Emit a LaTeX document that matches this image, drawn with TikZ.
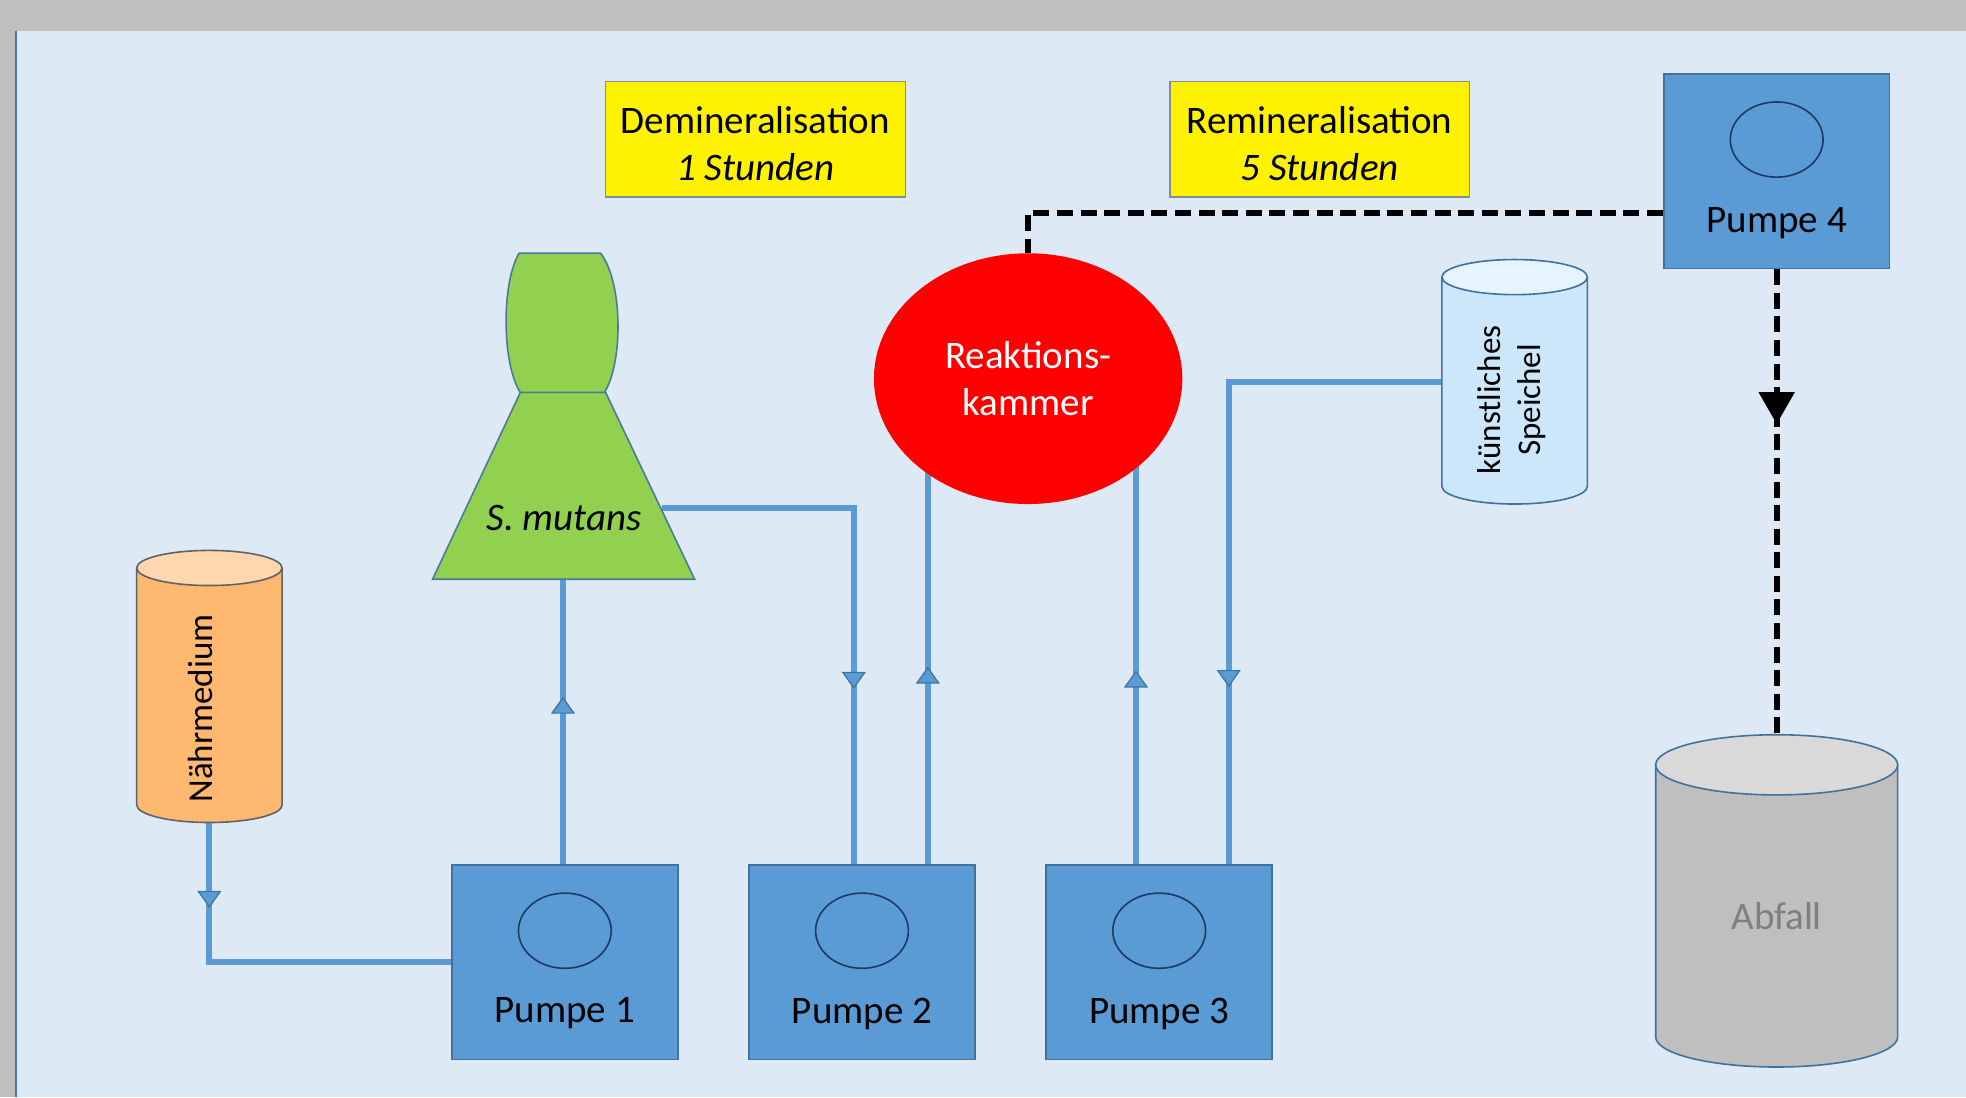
\documentclass[tikz,border=0pt]{standalone}
\usepackage{fontspec}
\setmainfont{Carlito}
\usetikzlibrary{arrows.meta,decorations.markings,calc,shapes.geometric}
\pgfdeclarelayer{back}
\pgfdeclarelayer{pipes}
\pgfsetlayers{back,pipes,main}
\definecolor{bgblue}{HTML}{DDEAF6}
\definecolor{framegray}{HTML}{BFBFBF}
\definecolor{edgeblue}{HTML}{4A74A8}
\definecolor{pumpblue}{HTML}{5B9BD5}
\definecolor{pumpborder}{HTML}{41719C}
\definecolor{eyenavy}{HTML}{1F3864}
\definecolor{pipeblue}{HTML}{5B9BD5}
\definecolor{flaskgreen}{HTML}{92D050}
\definecolor{flaskedge}{HTML}{4E7A9A}
\definecolor{orangebody}{HTML}{FFB870}
\definecolor{orangetop}{HTML}{FFD7AE}
\definecolor{orangeedge}{HTML}{5F6368}
\definecolor{salivabody}{HTML}{CCE7FA}
\definecolor{salivatop}{HTML}{E6F4FD}
\definecolor{wastebody}{HTML}{BFBFBF}
\definecolor{wastetop}{HTML}{D9D9D9}
\definecolor{wastetext}{HTML}{7F7F7F}
\definecolor{phaseedge}{HTML}{7F8C99}
\definecolor{reactred}{HTML}{FF0000}
\newcommand\mycyl[8]{%
  \path[draw=#8, line width=0.8pt, fill=#6] (#1-#4,#2) -- (#1-#4,#3)
    arc[start angle=180,end angle=0,x radius=#4,y radius=#5] -- (#1+#4,#2) -- cycle;
  \path[draw=#8, line width=0.8pt, fill=#7] (#1,#2) ellipse[x radius=#4, y radius=#5];
}
\begin{document}
\begin{tikzpicture}[x=0.627pt,y=-0.627pt,
  lbl/.style={font=\fontsize{19.5}{23.8}\selectfont, inner sep=0pt},
  pump/.style={draw=pumpborder, line width=0.8pt, fill=pumpblue, minimum width=112.9pt, minimum height=97.2pt, inner sep=0pt},
  pumpeye/.style={ellipse, draw=eyenavy, line width=0.8pt, minimum width=46.4pt, minimum height=37.6pt, inner sep=0pt},
  phase/.style={draw=phaseedge, fill=yellow, line width=0.8pt, minimum width=149.9pt, minimum height=57.7pt, inner sep=0pt},
  phasetext/.style={align=center, inner sep=0pt, font=\fontsize{19.5}{23.8}\selectfont},
  pipe/.style={draw=pipeblue, line width=3.1pt},
  dashpipe/.style={draw=black, line width=2.9pt, dash pattern=on 8pt off 3.8pt},
  flowmark/.style={postaction={decorate}, decoration={markings, mark=at position #1 with {\arrow{Triangle[width=12pt,length=8.5pt,fill=pipeblue,color=pumpborder,line width=0.6pt]}}}},
  bigmark/.style={postaction={decorate}, decoration={markings, mark=at position #1 with {\arrow{Triangle[width=17.5pt,length=16pt,fill=black,color=black]}}}},
  holder/.style={draw=none, inner sep=0pt}
]
\useasboundingbox (0,0) rectangle (1568,875);
\begin{pgfonlayer}{back}
  \fill[bgblue] (0,0) rectangle (1568,875);
  \fill[framegray] (0,0) rectangle (1568,25);
  \fill[framegray] (0,25) rectangle (12,875);
  \draw[edgeblue, line width=1.2pt] (12.8,25) -- (12.8,875);
\end{pgfonlayer}

% phase labels
\node[phase] (demin) at (602.5,111) {};
\node[phasetext] (demint) at ([yshift=-2.3pt]demin.center) {Demineralisation\\\textit{1 Stunden}};
\node[phase] (remin) at (1052.5,111) {};
\node[phasetext] (remint) at ([yshift=-2.3pt]remin.center) {Remineralisation\\\textit{5 Stunden}};

% pumps
\node[pump] (p1) at (450.5,767.5) {};
\node[pumpeye] (e1) at ([yshift=-33.2pt]p1.north) {};
\node[lbl] (t1) at ([yshift=-74.6pt]p1.north) {Pumpe 1};
\node[pump] (p2) at (687.5,767.5) {};
\node[pumpeye] (e2) at ([yshift=-33.2pt]p2.north) {};
\node[lbl] (t2) at ([yshift=-74.6pt]p2.north) {Pumpe 2};
\node[pump] (p3) at (924.5,767.5) {};
\node[pumpeye] (e3) at ([yshift=-33.2pt]p3.north) {};
\node[lbl] (t3) at ([yshift=-74.6pt]p3.north) {Pumpe 3};
\node[pump] (p4) at (1417,136.5) {};
\node[pumpeye] (e4) at ([yshift=-33.2pt]p4.north) {};
\node[lbl] (t4) at ([yshift=-75.2pt]p4.north) {Pumpe 4};

% reaction chamber
\node[ellipse, fill=reactred, minimum width=154.2pt, minimum height=125.4pt, inner sep=0pt, text=white, align=center, font=\fontsize{19.5}{23.8}\selectfont] (rk) at (820,302) {Reaktions-\\kammer};

% S. mutans flask
\draw[flaskedge, line width=0.8pt, fill=flaskgreen] (415,313) -- (483,313) -- (554,462) -- (345,462) -- cycle;
\draw[flaskedge, line width=0.8pt, fill=flaskgreen] (414,202) -- (479,202) .. controls (497,225) and (497,290) .. (482,313) -- (415,313) .. controls (400,290) and (400,225) .. (414,202) -- cycle;
\node[lbl, font=\fontsize{19.5}{23.8}\selectfont\itshape] (smut) at (450,413) {S. mutans};
\coordinate (flaskbot) at (449,462);
\coordinate (flaskright) at (528,405);

% cylinders
\mycyl{167}{453}{642}{58}{14}{orangebody}{orangetop}{orangeedge}
\node[holder, minimum width=72.7pt, minimum height=136pt] (naehr) at (167,547.5) {};
\node[lbl, rotate=90, font=\fontsize{17.5}{21}\selectfont] (naehrt) at (160,565) {Nährmedium};

\mycyl{1208}{221}{388}{58}{14}{salivabody}{salivatop}{pumpborder}
\node[holder, minimum width=72.7pt, minimum height=122.3pt] (speich) at (1208,304.5) {};
\node[lbl, rotate=90, align=center, font=\fontsize{16.5}{20}\selectfont] (speicht) at (1206,319) {künstliches\\Speichel};

\mycyl{1417}{610}{827}{96.5}{24}{wastebody}{wastetop}{pumpborder}
\node[holder, minimum width=121pt, minimum height=166.2pt] (abf) at (1417,718.5) {};
\node[lbl, text=wastetext] (abft) at (1417,731) {Abfall};

% connectors
\begin{pgfonlayer}{pipes}
  \draw[pipe, flowmark=0.223] (naehr.south) |- (p1.west);
  \draw[pipe, flowmark=0.588] (flaskbot |- p1.north) -- (flaskbot);
  \draw[pipe, flowmark=0.680] (flaskright) -| ([xshift=-4.1pt]p2.north);
  \draw[pipe, flowmark=0.407] ([xshift=32.9pt]p2.north) -- ([xshift=32.9pt]p2.north |- rk.center);
  \draw[pipe, flowmark=0.399] ([xshift=-11.6pt]p3.north) -- ([xshift=-11.6pt]p3.north |- rk.center);
  \draw[pipe, flowmark=0.745] (speich.west) -| ([xshift=34.8pt]p3.north);
  \coordinate (dashlevel) at (820,170);
  \draw[dashpipe] (p4.west |- dashlevel) -| (rk.north);
  \draw[dashpipe, bigmark=0.333] (p4.south) -- (abf.north);
\end{pgfonlayer}
\end{tikzpicture}
\end{document}
